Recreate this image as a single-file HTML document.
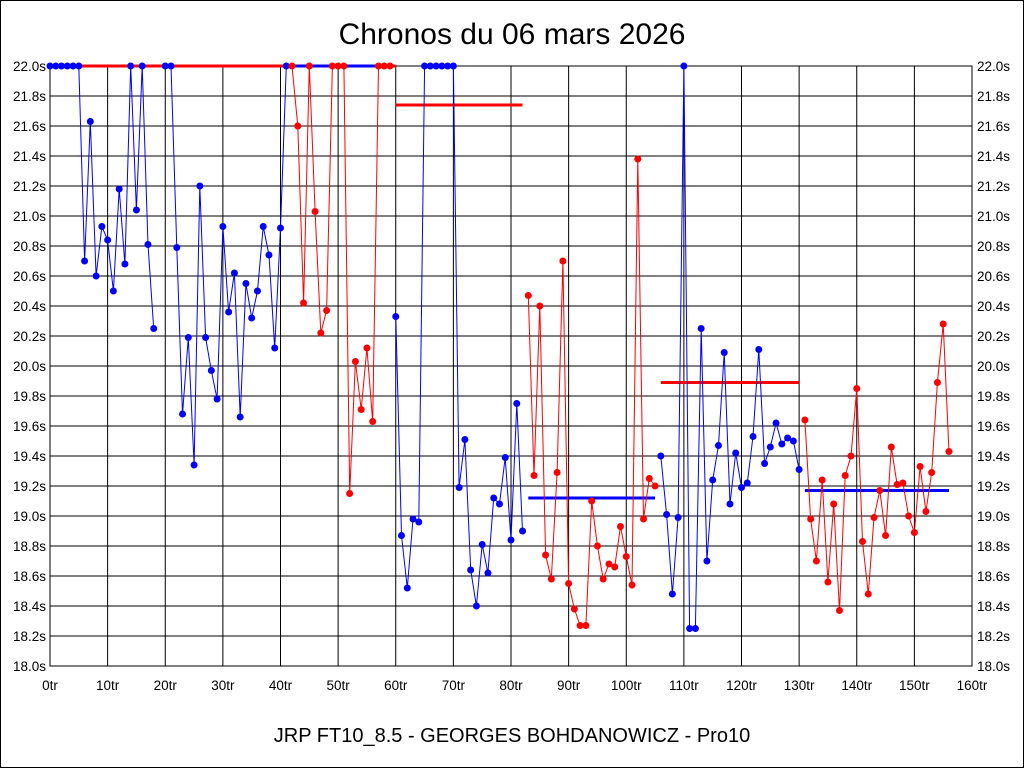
<!DOCTYPE html>
<html><head><meta charset="utf-8"><style>
html,body{margin:0;padding:0;background:#fff;width:1024px;height:768px;overflow:hidden}
svg{display:block;font-family:"Liberation Sans",sans-serif}
</style></head><body>
<svg id="c" width="1024" height="768" xmlns="http://www.w3.org/2000/svg">
<rect x="0" y="0" width="1024" height="768" fill="#fff" stroke="#000" stroke-width="2"/>
<text x="512" y="44" font-size="30" text-anchor="middle">Chronos du 06 mars 2026</text>
<text x="512" y="742" font-size="20" text-anchor="middle">JRP FT10_8.5 - GEORGES BOHDANOWICZ - Pro10</text>
<g id="g"></g>
</svg>
<script>
var NS="http://www.w3.org/2000/svg",g=document.getElementById('g');
function el(t,a,txt){var e=document.createElementNS(NS,t);for(var k in a)e.setAttribute(k,a[k]);if(txt!==undefined)e.textContent=txt;g.appendChild(e);return e;}
var X0=50,X1=972,Y0=66,Y1=666;
function X(i){return X0+(X1-X0)/160*i}
function Y(v){return Y0+(22-v)*150}
for(var k=0;k<=20;k++){var v=18+k*0.2,y=Y(v);
 el('line',{x1:X0,x2:X1,y1:y,y2:y,stroke:'#000','stroke-width':1});
 el('text',{x:46,y:y+5,'font-size':13.5,'text-anchor':'end'},v.toFixed(1)+'s');
 el('text',{x:977,y:y+5,'font-size':13.5},v.toFixed(1)+'s');}
for(var k=0;k<=16;k++){var x=X(k*10);
 el('line',{x1:x,x2:x,y1:Y0,y2:Y1,stroke:'#000','stroke-width':1});
 el('text',{x:x,y:690,'font-size':13.5,'text-anchor':'middle'},(k*10)+'tr');}
el('rect',{x:X0,y:Y0,width:X1-X0,height:Y1-Y0,fill:'none',stroke:'#000','stroke-width':1});
el('line',{x1:X(4.5),x2:X(60),y1:Y(22),y2:Y(22),stroke:'#f00','stroke-width':3});
el('line',{x1:X(42),x2:X(57),y1:Y(22),y2:Y(22),stroke:'#00f','stroke-width':3});
el('line',{x1:X(0),x2:X(5),y1:Y(22),y2:Y(22),stroke:'#00f','stroke-width':3});
el('line',{x1:X(60),x2:X(82),y1:Y(21.74),y2:Y(21.74),stroke:'#f00','stroke-width':3});
el('line',{x1:X(83),x2:X(105),y1:Y(19.12),y2:Y(19.12),stroke:'#00f','stroke-width':3});
el('line',{x1:X(106),x2:X(130),y1:Y(19.89),y2:Y(19.89),stroke:'#f00','stroke-width':3});
el('line',{x1:X(131),x2:X(156),y1:Y(19.17),y2:Y(19.17),stroke:'#00f','stroke-width':3});
var S=[
['#00f',0,[22,22,22,22,22,22,20.7,21.63,20.6,20.93,20.84,20.5,21.18,20.68,22,21.04,22,20.81,20.25]],
['#00f',20,[22,22,20.79,19.68,20.19,19.34,21.2,20.19,19.97,19.78,20.93,20.36,20.62,19.66,20.55,20.32,20.5,20.93,20.74,20.12,20.92,22]],
['#f00',42,[22,21.6,20.42,22,21.03,20.22,20.37,22,22,22,19.15,20.03,19.71,20.12,19.63,22,22,22]],
['#00f',60,[20.33,18.87,18.52,18.98,18.96,22,22,22,22,22,22,19.19,19.51,18.64,18.4,18.81,18.62,19.12,19.08,19.39,18.84,19.75,18.9]],
['#f00',83,[20.47,19.27,20.4,18.74,18.58,19.29,20.7,18.55,18.38,18.27,18.27,19.1,18.8,18.58,18.68,18.66,18.93,18.73,18.54,21.38,18.98,19.25,19.2]],
['#00f',106,[19.4,19.01,18.48,18.99,22,18.25,18.25,20.25,18.7,19.24,19.47,20.09,19.08,19.42,19.19,19.22,19.53,20.11,19.35,19.46,19.62,19.48,19.52,19.5,19.31]],
['#f00',131,[19.64,18.98,18.7,19.24,18.56,19.08,18.37,19.27,19.4,19.85,18.83,18.48,18.99,19.17,18.87,19.46,19.21,19.22,19,18.89,19.33,19.03,19.29,19.89,20.28,19.43]]
];
S.forEach(function(s){var pts=s[2].map(function(v,j){return X(s[1]+j).toFixed(1)+','+Y(v).toFixed(1)}).join(' ');
 el('polyline',{points:pts,fill:'none',stroke:s[0],'stroke-width':1});
 s[2].forEach(function(v,j){el('circle',{cx:X(s[1]+j),cy:Y(v),r:3.5,fill:s[0]});});});
</script>
</body></html>
